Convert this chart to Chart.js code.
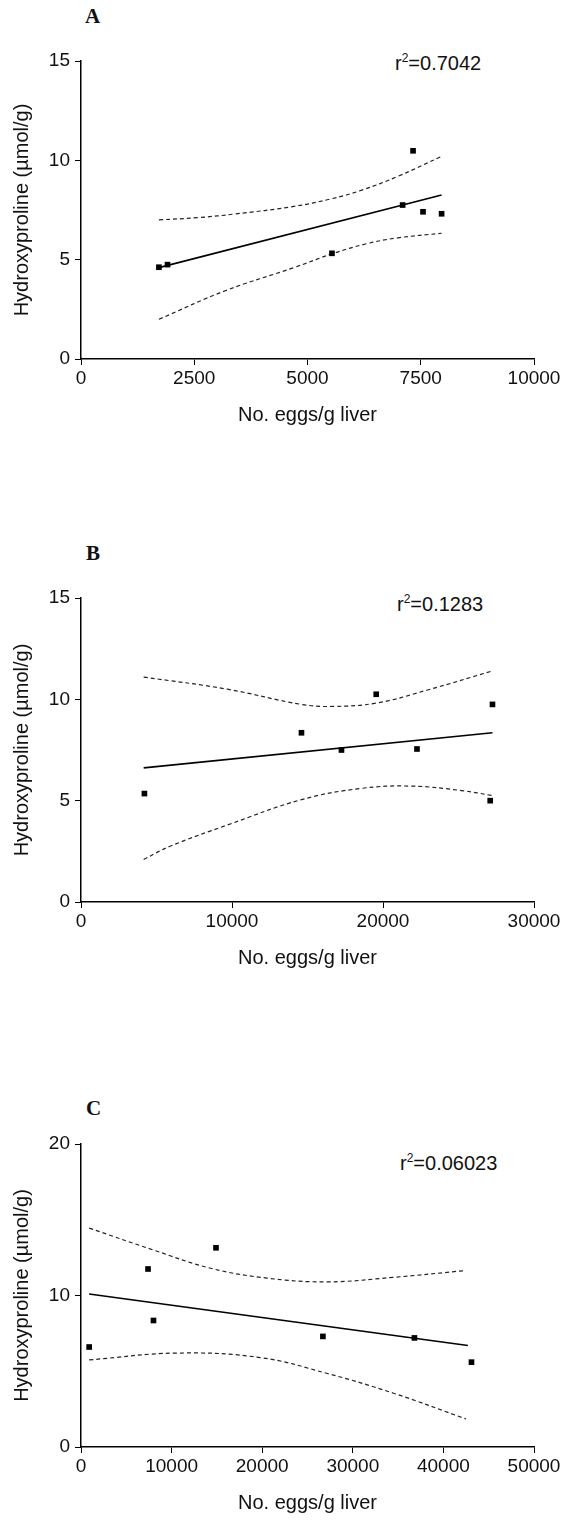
<!DOCTYPE html>
<html>
<head>
<meta charset="utf-8">
<script src="https://cdn.jsdelivr.net/npm/chart.js@4.4.1/dist/chart.umd.min.js"></script>
<style>
  html, body { margin: 0; padding: 0; background: #fff; }
  #wrap { position: relative; width: 565px; height: 1529px; overflow: hidden; background: #fff; }
  canvas { position: absolute; left: 0; }
  .lbl { position: absolute; font-family: "Liberation Serif", "Times New Roman", serif; font-weight: bold; font-size: 21px; line-height: 21px; color: #111; }
  .r2 { position: absolute; font-family: "Liberation Sans", Arial, sans-serif; font-size: 20px; line-height: 20px; color: #111; white-space: nowrap; }
  .r2 span { font-size: 12px; position: relative; top: -8px; }
</style>
</head>
<body>
<div id="wrap">
  <div class="lbl" style="left:85px;top:6px;">A</div>
  <div class="lbl" style="left:86px;top:543px;">B</div>
  <div class="lbl" style="left:86px;top:1098px;">C</div>
  <div class="r2" style="left:395px;top:53px;">r<span>2</span>=0.7042</div>
  <div class="r2" style="left:397px;top:594px;">r<span>2</span>=0.1283</div>
  <div class="r2" style="left:400px;top:1153px;">r<span>2</span>=0.06023</div>
  <canvas id="cA" width="565" height="440" style="top:0px"></canvas>
  <canvas id="cB" width="565" height="440" style="top:540px"></canvas>
  <canvas id="cC" width="565" height="440" style="top:1089px"></canvas>
</div>
<script>
// ---------- Panel A ----------
const aX = [1720, 1910, 5540, 7100, 7330, 7550, 7960];
const aY = [4.62, 4.75, 5.32, 7.75, 10.48, 7.41, 7.31];
const aFitX = [1720, 7960];
const aFitY = [4.6, 8.25];
const aUpX = [1720, 2600, 3400, 4700, 5500, 6200, 7000, 7960];
const aUpY = [7.0, 7.12, 7.3, 7.68, 8.05, 8.5, 9.2, 10.2];
const aLoX = [1720, 3200, 4700, 5550, 6300, 7000, 7960];
const aLoY = [2.0, 3.45, 4.6, 5.3, 5.8, 6.1, 6.33];
const aXTicks = [0, 2500, 5000, 7500, 10000];
const aYTicks = [0, 5, 10, 15];

// ---------- Panel B ----------
const bX = [4200, 14600, 17250, 19550, 22250, 27100, 27250];
const bY = [5.35, 8.35, 7.5, 10.25, 7.55, 5.0, 9.75];
const bFitX = [4150, 27250];
const bFitY = [6.62, 8.35];
const bUpX = [4150, 9700, 14600, 16700, 19600, 22900, 27250];
const bUpY = [11.1, 10.5, 9.75, 9.65, 9.82, 10.45, 11.4];
const bLoX = [4150, 5900, 9700, 14600, 18500, 21800, 25200, 27250];
const bLoY = [2.1, 2.75, 3.8, 5.05, 5.6, 5.72, 5.5, 5.25];
const bXTicks = [0, 10000, 20000, 30000];
const bYTicks = [0, 5, 10, 15];

// ---------- Panel C ----------
const cX = [900, 7400, 8000, 14900, 26700, 36800, 43100];
const cY = [6.6, 11.75, 8.35, 13.15, 7.3, 7.2, 5.6];
const cFitX = [900, 42700];
const cFitY = [10.1, 6.7];
const cUpX = [900, 8000, 14300, 20500, 27200, 34500, 42500];
const cUpY = [14.45, 13.0, 11.8, 11.15, 10.9, 11.2, 11.65];
const cLoX = [900, 10600, 19800, 27200, 34500, 42500];
const cLoY = [5.75, 6.2, 5.9, 4.85, 3.55, 1.85];
const cXTicks = [0, 10000, 20000, 30000, 40000, 50000];
const cYTicks = [0, 10, 20];

const xTitle = "No. eggs/g liver";
const yTitle = "Hydroxyproline (\u00b5mol/g)";

const FONT = '"Liberation Sans", Arial, Helvetica, sans-serif';

function pts(xs, ys) { return xs.map((x, i) => ({ x: x, y: ys[i] })); }

function makeChart(id, xs, ys, fx, fy, ux, uy, lx, ly, xt, yt, padTop, padBottom) {
  const dashStyle = { showLine: true, pointRadius: 0, borderColor: '#222', borderWidth: 1.2, borderDash: [4, 3], tension: 0.4, fill: false };
  new Chart(document.getElementById(id), {
    type: 'scatter',
    data: {
      datasets: [
        { data: pts(xs, ys), pointStyle: 'rect', pointRadius: 4, pointHoverRadius: 4, backgroundColor: '#000', borderColor: '#000', borderWidth: 0, showLine: false },
        { data: pts(fx, fy), showLine: true, pointRadius: 0, borderColor: '#000', borderWidth: 1.6, tension: 0 },
        Object.assign({ data: pts(ux, uy) }, dashStyle),
        Object.assign({ data: pts(lx, ly) }, dashStyle)
      ]
    },
    options: {
      responsive: false,
      animation: false,
      devicePixelRatio: 1,
      layout: { padding: { top: padTop, right: 31, bottom: padBottom, left: 0 } },
      plugins: { legend: { display: false }, tooltip: { enabled: false } },
      scales: {
        x: {
          type: 'linear',
          min: xt[0], max: xt[xt.length - 1],
          afterBuildTicks: s => { s.ticks = xt.map(v => ({ value: v })); },
          afterFit: s => { s.height = 68; },
          grid: { display: true, drawOnChartArea: false, drawTicks: true, tickLength: 6, color: '#000', lineWidth: 1 },
          border: { display: true, color: '#000', width: 1.5 },
          ticks: { color: '#111', font: { family: FONT, size: 19 }, padding: 2, maxRotation: 0, autoSkip: false, callback: v => String(v) },
          title: { display: true, text: xTitle, color: '#111', font: { family: FONT, size: 20 }, padding: { top: 0, bottom: 0 } }
        },
        y: {
          type: 'linear',
          min: yt[0], max: yt[yt.length - 1],
          afterBuildTicks: s => { s.ticks = yt.map(v => ({ value: v })); },
          afterFit: s => { s.width = 81; },
          grid: { display: true, drawOnChartArea: false, drawTicks: true, tickLength: 6, color: '#000', lineWidth: 1 },
          border: { display: true, color: '#000', width: 1.5 },
          ticks: { color: '#111', font: { family: FONT, size: 19 }, padding: 5, autoSkip: false, callback: v => String(v) },
          title: { display: true, text: yTitle, color: '#111', font: { family: FONT, size: 20 }, padding: { top: 10, bottom: 0 } }
        }
      }
    }
  });
}

makeChart('cA', aX, aY, aFitX, aFitY, aUpX, aUpY, aLoX, aLoY, aXTicks, aYTicks, 61, 440 - 359 - 68);
makeChart('cB', bX, bY, bFitX, bFitY, bUpX, bUpY, bLoX, bLoY, bXTicks, bYTicks, 58, 440 - 362 - 68);
makeChart('cC', cX, cY, cFitX, cFitY, cUpX, cUpY, cLoX, cLoY, cXTicks, cYTicks, 55, 440 - 358 - 68);
</script>
</body>
</html>
